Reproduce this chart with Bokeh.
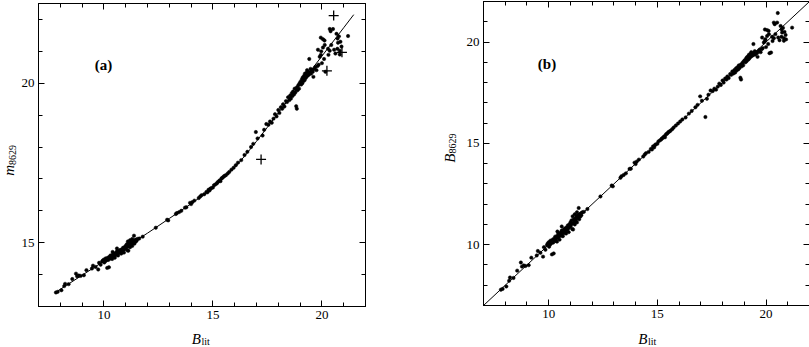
import math
from bokeh.plotting import figure
from bokeh.layouts import row, column
from bokeh.models import Range1d, LinearAxis, SingleIntervalTicker
from bokeh.core.properties import value
from bokeh.embed import file_html
from bokeh.resources import INLINE

# ---------------- data ----------------
# literature B magnitude of each star
blit = [
    7.80, 7.88, 8.05, 8.18, 8.22, 8.38, 8.55, 8.72, 8.77, 8.85, 8.93, 9.08, 9.20, 9.45, 9.50, 9.62, 9.74, 9.78, 9.85,
    9.92, 9.95, 10.00, 10.02, 10.05, 10.08, 10.10, 10.15, 10.18, 10.20, 10.23, 10.25, 10.28, 10.30, 10.32, 10.35,
    10.38, 10.40, 10.40, 10.42, 10.45, 10.48, 10.50, 10.52, 10.55, 10.58, 10.60, 10.60, 10.62, 10.65, 10.68, 10.70,
    10.72, 10.75, 10.78, 10.80, 10.82, 10.85, 10.88, 10.90, 10.92, 10.95, 10.98, 11.00, 11.02, 11.05, 11.08, 11.10,
    11.10, 11.12, 11.15, 11.18, 11.20, 11.20, 11.22, 11.25, 11.28, 11.30, 11.30, 11.32, 11.35, 11.38, 11.40, 11.42,
    11.45, 11.48, 11.50, 11.55, 11.62, 11.78,
    12.38, 12.90, 12.95, 13.30, 13.35, 13.45, 13.55, 13.72, 13.78, 13.95, 14.00, 14.05, 14.15, 14.35, 14.42, 14.48,
    14.60, 14.70, 14.75, 14.80, 14.85, 14.88, 14.92, 15.00, 15.05, 15.12, 15.18, 15.22, 15.28, 15.32, 15.35, 15.40,
    15.45, 15.50, 15.55, 15.60, 15.68, 15.75, 15.85, 15.95, 16.05, 16.15, 16.30, 16.45, 16.58, 16.75, 16.85, 16.97,
    17.05,
    17.28, 17.35, 17.45, 17.55, 17.62, 17.70, 17.78, 17.85, 17.92, 18.00, 18.05, 18.12, 18.18, 18.22, 18.28, 18.35,
    18.40, 18.45, 18.50, 18.55, 18.58, 18.62, 18.65, 18.68, 18.72, 18.75, 18.78, 18.82, 18.85, 18.85, 18.88, 18.92,
    18.95, 18.98,
    19.02, 19.05, 19.08, 19.10, 19.12, 19.15, 19.18, 19.20, 19.22, 19.25, 19.28, 19.30, 19.32, 19.35, 19.38, 19.40,
    19.42, 19.45, 19.48, 19.50, 19.55, 19.58, 19.61, 19.65, 19.70, 19.75, 19.80, 19.85,
    19.90, 19.95, 19.95, 19.97, 19.82, 20.00, 20.05, 20.05, 20.10, 20.12, 20.13, 20.16, 20.28, 20.30, 20.36, 20.36,
    20.40, 20.43, 20.51, 20.56, 20.62, 20.67, 20.71, 20.72, 20.74, 20.78, 20.82, 20.82, 20.85, 20.90, 21.20,
]

# calibrated B of the same stars (panel b)
b8629 = [
    7.78, 7.82, 7.94, 8.22, 8.38, 8.36, 8.72, 9.12, 8.92, 8.98, 8.95, 8.99, 9.36, 9.47, 9.69, 9.60, 9.41, 9.88, 9.75,
    9.98, 10.05, 10.12, 9.90, 10.00, 10.20, 10.05, 9.52, 10.25, 10.10, 9.57, 10.30, 10.18, 10.40, 10.22, 10.32,
    10.15, 10.45, 10.65, 10.35, 10.55, 10.40, 10.25, 10.50, 10.60, 10.45, 10.70, 10.90, 10.55, 10.42, 10.65, 10.75,
    10.58, 10.80, 10.68, 10.55, 10.85, 10.72, 10.95, 10.80, 10.62, 11.00, 10.88, 11.10, 10.95, 11.20, 10.78, 11.05,
    11.40, 10.75, 11.25, 11.12, 11.00, 11.50, 11.30, 11.18, 11.40, 11.10, 11.60, 11.32, 11.45, 11.81, 11.25, 11.50,
    11.38, 11.55, 11.45, 11.60, 11.62, 11.76,
    12.38, 12.92, 12.88, 13.30, 13.38, 13.44, 13.52, 13.74, 13.75, 14.05, 13.98, 14.10, 14.20, 14.35, 14.45, 14.52,
    14.58, 14.72, 14.70, 14.85, 14.80, 14.90, 14.95, 14.98, 15.10, 15.15, 15.20, 15.25, 15.30, 15.35, 15.30, 15.45,
    15.48, 15.55, 15.58, 15.62, 15.70, 15.78, 15.88, 15.98, 16.08, 16.18, 16.28, 16.47, 16.60, 16.78, 16.90, 17.32,
    17.10,
    17.20, 17.40, 17.61, 17.58, 17.70, 17.65, 17.80, 17.95, 17.88, 18.10, 18.00, 18.20, 18.15, 18.30, 18.22, 18.42,
    18.38, 18.55, 18.45, 18.62, 18.50, 18.70, 18.60, 18.75, 18.65, 18.85, 18.72, 18.24, 18.15, 18.90, 18.80, 18.98,
    18.85, 19.05,
    19.10, 19.00, 19.18, 19.05, 19.25, 19.12, 19.30, 19.15, 19.38, 19.22, 19.40, 19.28, 19.50, 19.32, 19.45, 19.35,
    19.90, 19.42, 19.55, 19.38, 19.50, 19.45, 19.27, 19.55, 19.62, 19.50, 19.65, 19.70,
    19.98, 20.05, 20.62, 20.14, 20.22, 19.75, 20.30, 20.59, 19.90, 20.55, 20.39, 19.45, 20.26, 20.05, 20.19, 20.96,
    20.88, 20.39, 20.96, 20.22, 20.09, 20.79, 20.26, 20.62, 20.47, 20.70, 20.19, 20.06, 20.50, 20.35, 20.71,
]

# instrumental magnitude of the same stars (panel a)
m8629 = [
    13.44, 13.46, 13.51, 13.64, 13.71, 13.70, 13.86, 14.03, 13.95, 13.97, 13.96, 13.98, 14.14, 14.19, 14.28, 14.24,
    14.16, 14.37, 14.31,
    14.41, 14.44, 14.47, 14.38, 14.42, 14.51, 14.44, 14.21, 14.53, 14.46, 14.23, 14.55, 14.50, 14.60, 14.52, 14.56,
    14.49, 14.62, 14.71, 14.57, 14.66, 14.60, 14.53, 14.64, 14.68, 14.62, 14.73, 14.82, 14.66, 14.60, 14.71, 14.75,
    14.68, 14.77, 14.72, 14.66, 14.79, 14.74, 14.84, 14.77, 14.69, 14.86, 14.81, 14.90, 14.84, 14.95, 14.76, 14.88,
    15.04, 14.75, 14.97, 14.91, 14.86, 15.08, 14.99, 14.94, 15.04, 14.90, 15.12, 15.00, 15.06, 15.22, 14.97, 15.08,
    15.03, 15.10, 15.06, 15.12, 15.13, 15.19,
    15.47, 15.72, 15.70, 15.90, 15.93, 15.96, 16.00, 16.10, 16.11, 16.25, 16.21, 16.27, 16.32, 16.40, 16.45, 16.49,
    16.52, 16.59, 16.58, 16.66, 16.64, 16.69, 16.71, 16.73, 16.80, 16.83, 16.86, 16.90, 16.93, 16.96, 16.93, 17.02,
    17.04, 17.08, 17.10, 17.12, 17.17, 17.22, 17.29, 17.35, 17.43, 17.51, 17.59, 17.75, 17.85, 18.00, 18.10, 18.47,
    18.27,
    18.36, 18.54, 18.72, 18.70, 18.80, 18.76, 18.89, 19.03, 18.96, 19.16, 19.07, 19.25, 19.20, 19.34, 19.27, 19.44,
    19.41, 19.56, 19.47, 19.62, 19.52, 19.69, 19.60, 19.74, 19.65, 19.83, 19.71, 19.28, 19.20, 19.87, 19.78, 19.94,
    19.83, 20.00,
    20.05, 19.96, 20.12, 20.00, 20.18, 20.07, 20.23, 20.09, 20.30, 20.16, 20.32, 20.21, 20.41, 20.24, 20.36, 20.27,
    20.76, 20.33, 20.45, 20.30, 20.41, 20.36, 20.20, 20.45, 20.51, 20.41, 20.54, 20.58,
    20.83, 20.89, 21.43, 21.00, 21.05, 20.63, 21.12, 21.38, 20.76, 21.34, 21.20, 20.36, 21.08, 20.89, 21.02, 21.70,
    21.63, 21.20, 21.70, 21.05, 20.93, 21.55, 21.08, 21.40, 21.27, 21.47, 21.02, 20.90, 21.30, 21.15, 21.48,
]

# stars drawn as crosses in panel (a)
flag_blit = [17.21, 20.23, 20.54, 20.92]
flag_b8629 = [16.30, 19.48, 21.43, 20.13]
flag_m8629 = [17.61, 20.39, 22.12, 20.97]

# calibration curve of panel (a)
curve_blit = [7.8, 8.0, 9.0, 10.0, 11.0, 12.0, 13.0, 14.0, 14.5, 15.0, 15.5, 16.0, 16.5, 17.0, 17.5,
              18.0, 19.0, 20.0, 21.0, 21.46]
curve_m8629 = [13.45, 13.54, 13.98, 14.42, 14.86, 15.30, 15.76, 16.22, 16.47, 16.74, 17.03, 17.36, 17.75,
               18.18, 18.62, 19.07, 19.96, 20.85, 21.74, 22.15]

# one-to-one line of panel (b)
unity = [7, 22]

x_limits = (7, 22)
ya_limits = (13, 22.5)
yb_limits = (7, 22)
major_step = 5
minor_per_major = 5

panel_a_tag = "(a)"
panel_b_tag = "(b)"
x_title = ("B", "lit")
ya_title = ("m", "8629")
yb_title = ("B", "8629")

# ---------------- layout ----------------
SERIF = "Liberation Serif"
XLAB_H = 19


def style_axis(ax, labels):
    ax.ticker = SingleIntervalTicker(interval=major_step, num_minor_ticks=minor_per_major)
    ax.major_tick_in = 6
    ax.major_tick_out = 0
    ax.minor_tick_in = 4
    ax.minor_tick_out = 0
    ax.axis_line_color = "black"
    ax.major_tick_line_color = "black"
    ax.minor_tick_line_color = "black"
    ax.axis_label = None
    if labels:
        ax.major_label_text_font = SERIF
        ax.major_label_text_font_size = "13px"
        ax.major_label_text_color = "black"
        ax.major_label_standoff = 4
    else:
        ax.major_label_text_color = None
        ax.major_label_standoff = 0


def bare(width, height, xr, yr, left=0, right=0, top=0, bottom=0):
    p = figure(width=width, height=height,
               frame_width=width - left - right, frame_height=height - top - bottom,
               x_range=xr, y_range=yr, output_backend="svg", toolbar_location=None,
               x_axis_location=None, y_axis_location=None,
               min_border_left=left, min_border_right=right,
               min_border_top=top, min_border_bottom=bottom)
    p.xgrid.visible = False
    p.ygrid.visible = False
    p.outline_line_color = None
    p.background_fill_color = "white"
    p.border_fill_color = "white"
    return p


def make_fig(ylim, left, fw, right, top, fh, bottom):
    p = figure(width=left + fw + right, height=top + fh + bottom,
               frame_width=fw, frame_height=fh,
               x_range=Range1d(*x_limits), y_range=Range1d(*ylim),
               output_backend="svg", toolbar_location=None,
               min_border_left=left, min_border_right=right,
               min_border_top=top, min_border_bottom=bottom)
    p.xgrid.visible = False
    p.ygrid.visible = False
    p.outline_line_color = "black"
    p.outline_line_width = 1
    p.background_fill_color = "white"
    p.border_fill_color = "white"
    style_axis(p.xaxis[0], True)
    style_axis(p.yaxis[0], True)
    top_ax = LinearAxis()
    right_ax = LinearAxis()
    style_axis(top_ax, False)
    style_axis(right_ax, False)
    p.add_layout(top_ax, "above")
    p.add_layout(right_ax, "right")
    return p


def words(p, x, y, texts, size, style="normal", angle=0.0, align="center", baseline="middle"):
    p.text(x=x, y=y, text=texts, text_font=value(SERIF), text_font_size=size,
           text_font_style=style, angle=angle, text_align=align,
           text_baseline=baseline, text_color="black")


def x_title_fig(left, fw, right):
    # y measured in pixels up from the bottom of this strip
    p = bare(left + fw + right, XLAB_H, Range1d(*x_limits), Range1d(0, XLAB_H), left=left, right=right)
    xpp = (x_limits[1] - x_limits[0]) / fw
    xc = (x_limits[0] + x_limits[1]) / 2
    words(p, [xc + 1 * xpp], [9.0], [x_title[0]], "15px", "italic", align="right")
    words(p, [xc + 1.5 * xpp], [6.0], [x_title[1]], "10px", align="left")
    return p


def y_title_fig(ylim, title, width, top, fh, bottom, xmain, xsub, shift_down, main_size, sub_size):
    # x measured in pixels from the left of this strip
    p = bare(width, top + fh + bottom, Range1d(0, width), Range1d(*ylim), top=top, bottom=bottom)
    ypp = (ylim[1] - ylim[0]) / fh
    yc = (ylim[0] + ylim[1]) / 2 - shift_down * ypp
    words(p, [xmain], [yc], [title[0]], main_size, "italic", angle=math.pi / 2, align="right")
    words(p, [xsub], [yc], [title[1]], sub_size, angle=math.pi / 2, align="left")
    return p


# panel (a): frame 36..363 x 3..306
YA_W, A_LEFT, A_FW, A_RIGHT = 18, 18, 327, 75
A_TOP, A_FH, A_BOTTOM = 3, 303, 22
pa = make_fig(ya_limits, A_LEFT, A_FW, A_RIGHT, A_TOP, A_FH, A_BOTTOM)
pa.line(curve_blit, curve_m8629, line_color="black", line_width=1)
pa.scatter(blit, m8629, marker="circle", size=3.4, fill_color="black", line_color="black", line_width=0.5)
pa.scatter(flag_blit, flag_m8629, marker="cross", size=10, line_color="black", line_width=1.3)
words(pa, [9.58], [20.57], [panel_a_tag], "15px", "bold", align="left")
ya = y_title_fig(ya_limits, ya_title, YA_W, A_TOP, A_FH, A_BOTTOM, 8.6, 12.4, 10, "15px", "10px")
xa = x_title_fig(YA_W + A_LEFT, A_FW, A_RIGHT)

# panel (b): frame 481..807 x 1..305
YB_W, B_LEFT, B_FW, B_RIGHT = 18, 25, 326, 2
B_TOP, B_FH, B_BOTTOM = 1, 304, 23
pb = make_fig(yb_limits, B_LEFT, B_FW, B_RIGHT, B_TOP, B_FH, B_BOTTOM)
pb.line(unity, unity, line_color="black", line_width=1)
pb.scatter(blit + flag_blit, b8629 + flag_b8629, marker="circle", size=3.4,
           fill_color="black", line_color="black", line_width=0.5)
words(pb, [9.5], [18.92], [panel_b_tag], "15px", "bold", align="left")
yb = y_title_fig(yb_limits, yb_title, YB_W, B_TOP, B_FH, B_BOTTOM, 9, 12.4, 0, "15px", "10px")
xb = x_title_fig(YB_W + B_LEFT, B_FW, B_RIGHT)

layout = row(column(row(ya, pa), xa), column(row(yb, pb), xb))
open("out.html", "w").write(file_html(layout, INLINE))
